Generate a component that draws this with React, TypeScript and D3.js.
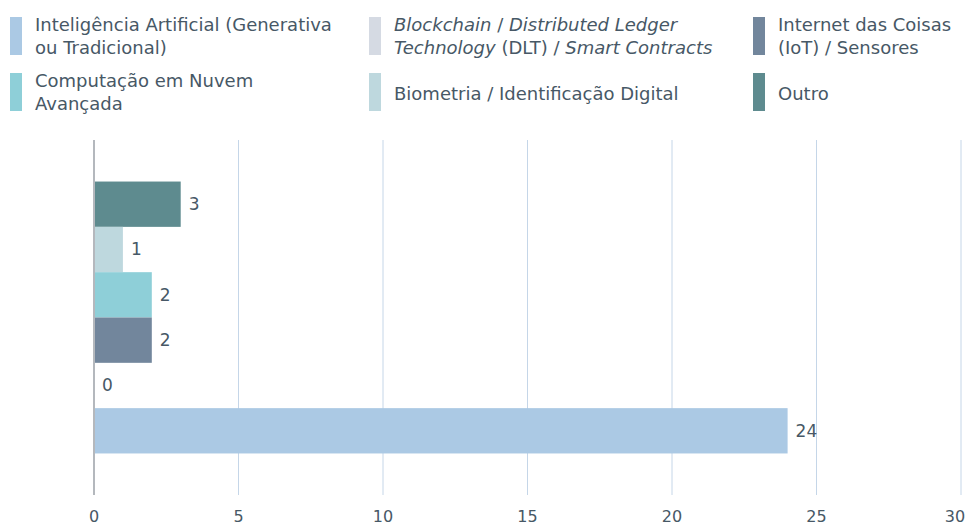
import React, { useEffect, useRef } from 'react'
import * as d3 from 'd3'

// series, in legend order
const seriesNames = [
  'Inteligência Artificial (Generativa ou Tradicional)',
  'Blockchain / Distributed Ledger Technology (DLT) / Smart Contracts',
  'Internet das Coisas (IoT) / Sensores',
  'Computação em Nuvem Avançada',
  'Biometria / Identificação Digital',
  'Outro',
]
const seriesValues = [24, 0, 2, 2, 1, 3]
const seriesColors = ['#abc9e4', '#d5dae3', '#72869c', '#8ecfd8', '#bed8de', '#5e8b8f']
const xTicks = [0, 5, 10, 15, 20, 25, 30]

// legend lines, [text, italic]
const legendLines: [string, boolean][][][] = [
  [[['Inteligência Artificial (Generativa', false]], [['ou Tradicional)', false]]],
  [
    [['Blockchain', true], [' / ', false], ['Distributed Ledger', true]],
    [['Technology', true], [' (DLT) / ', false], ['Smart Contracts', true]],
  ],
  [[['Internet das Coisas', false]], [['(IoT) / Sensores', false]]],
  [[['Computação em Nuvem', false]], [['Avançada', false]]],
  [[['Biometria / Identificação Digital', false]]],
  [[['Outro', false]]],
]

const FONT = '"DejaVu Sans", sans-serif'
const TEXT = '#475866'

export default function App() {
  const ref = useRef<SVGSVGElement>(null)

  useEffect(() => {
    const width = 976
    const height = 527
    const margin = { top: 140, right: 15, bottom: 32, left: 94 }

    const svg = d3.select(ref.current)
    svg.selectAll('*').remove()

    // legend
    const colX = [10, 369, 753]
    const rowY = [17, 73]
    const legend = svg.append('g')
    seriesNames.forEach((name, i) => {
      const cx = colX[i % 3]
      const cy = rowY[Math.floor(i / 3)]
      const g = legend.append('g').attr('transform', `translate(${cx},${cy})`)
      g.append('rect').attr('width', 12).attr('height', 38).attr('fill', seriesColors[i])
      const lines = legendLines[i]
      const text = g.append('text')
        .attr('font-family', FONT)
        .attr('font-size', 18)
        .attr('fill', TEXT)
      lines.forEach((line, li) => {
        const baseY = lines.length === 1 ? 27 : 14 + li * 23
        line.forEach(([t, it], pi) => {
          const ts = text.append('tspan').text(t)
            .attr('font-style', it ? 'italic' : 'normal')
          if (pi === 0) ts.attr('x', 25).attr('y', baseY)
        })
      })
    })

    const x = d3.scaleLinear()
      .domain([0, 30])
      .range([margin.left, width - margin.right])

    // one category group, the series bars stacked top-down in reverse legend order
    const order = d3.range(seriesNames.length).reverse()
    const plotTop = margin.top
    const plotBottom = height - margin.bottom
    const inner = (plotBottom - plotTop) * 0.117
    const y = d3.scaleBand<number>()
      .domain(order)
      .range([plotTop + inner, plotBottom - inner])
      .padding(0)

    // grid
    svg.append('g')
      .selectAll('line')
      .data(xTicks.slice(1))
      .enter()
      .append('line')
      .attr('x1', d => x(d))
      .attr('x2', d => x(d))
      .attr('y1', plotTop)
      .attr('y2', plotBottom)
      .attr('stroke', '#c5d6e8')
      .attr('stroke-width', 1)

    // bars
    svg.append('g')
      .selectAll('rect')
      .data(order)
      .enter()
      .append('rect')
      .attr('x', x(0))
      .attr('y', d => y(d)!)
      .attr('width', d => x(seriesValues[d]) - x(0))
      .attr('height', y.bandwidth())
      .attr('fill', d => seriesColors[d])

    // value labels
    svg.append('g')
      .selectAll('text')
      .data(order)
      .enter()
      .append('text')
      .attr('x', d => x(seriesValues[d]) + 8)
      .attr('y', d => y(d)! + y.bandwidth() / 2)
      .attr('dy', '0.35em')
      .attr('font-family', FONT)
      .attr('font-size', 17)
      .attr('fill', TEXT)
      .text(d => seriesValues[d])

    // zero axis line
    svg.append('line')
      .attr('x1', x(0))
      .attr('x2', x(0))
      .attr('y1', plotTop)
      .attr('y2', plotBottom)
      .attr('stroke', '#b4b8bd')
      .attr('stroke-width', 2)

    // x tick labels
    svg.append('g')
      .selectAll('text')
      .data(xTicks)
      .enter()
      .append('text')
      .attr('x', (d, i) => x(d) - (i === xTicks.length - 1 ? 6 : 0))
      .attr('y', height - 5)
      .attr('text-anchor', 'middle')
      .attr('font-family', FONT)
      .attr('font-size', 16)
      .attr('fill', TEXT)
      .text(d => d)
  }, [])

  return (
    <svg ref={ref} width={976} height={527} style={{ position: 'absolute', left: 0, top: 0 }} />
  )
}
